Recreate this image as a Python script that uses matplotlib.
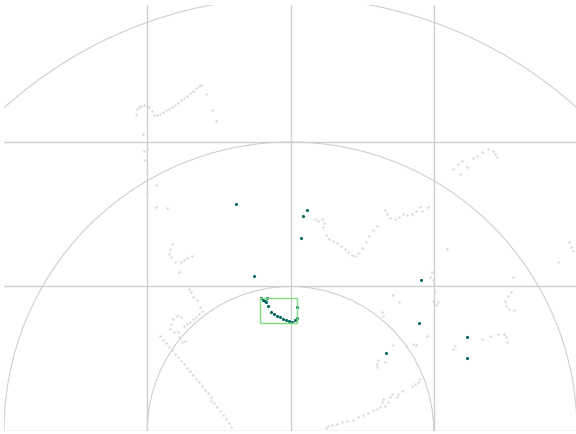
import numpy as np
import matplotlib
matplotlib.use("Agg")
import matplotlib.pyplot as plt
from matplotlib.patches import Circle, Rectangle

# lidar scan points (metres)
scan_x = [-1.081, -1.074, -1.060, -1.046, -1.025, -1.004, -0.989, -0.968,
          -0.954, -0.933, -0.912, -0.891, -0.870, -0.849, -0.828, -0.807, -0.786, -0.765,
          -0.744, -0.723, -0.702, -0.681, -0.660, -0.639, -0.625, -0.589, -0.547, -0.519,
          -1.032, -1.025, -1.004, -1.018, -1.004, -1.018, -0.940, -1.004, -0.940, -0.863,
          -0.828, -0.842, -0.849, -0.835, -0.807, -0.765, -0.744, -0.723, -0.688, -0.779,
          -0.709, -0.695, -0.681, -0.653, -0.632,
          -0.618, -0.639, -0.660, -0.681, -0.702, -0.723, -0.744, -0.765, -0.793, -0.821,
          -0.835, -0.842, -0.814, -0.786, -0.779, -0.758, -0.737,
          -0.912, -0.891, -0.870, -0.849, -0.828, -0.807, -0.786, -0.765, -0.744, -0.723,
          -0.702, -0.681, -0.660, -0.639, -0.618, -0.596, -0.575, -0.554, -0.554, -0.533,
          -0.512, -0.491, -0.470, -0.449, -0.428, -0.414,
          0.168, 0.189, 0.218, 0.232, 0.225, 0.246, 0.267, 0.295, 0.323, 0.351, 0.379,
          0.400, 0.428, 0.449, 0.470, 0.498, 0.526, 0.547, 0.575, 0.604, 0.660, 0.674,
          0.695, 0.730, 0.758, 0.786, 0.814, 0.849, 0.877, 0.905, 0.919, 0.961,
          1.137, 1.172, 1.200, 1.186, 1.235, 1.277, 1.305, 1.340, 1.382, 1.411, 1.425, 1.439,
          1.095, 1.944, 1.958, 1.972, 1.867, 1.551, 1.537, 1.516, 1.495, 1.502, 1.523, 1.558,
          0.989, 0.975, 0.996, 1.004, 1.011, 0.996, 1.032, 1.018, 0.716, 0.758, 0.639, 0.646,
          0.954, 0.856, 0.807, 0.716, 0.877,
          1.151, 1.137, 1.340, 1.396, 1.446, 1.488, 1.502, 1.509,
          0.611, 0.604, 0.604, 0.660, 0.905, 0.891, 0.870, 0.849, 0.779, 0.751, 0.744, 0.709,
          0.695, 0.646, 0.639, 0.681, 0.660, 0.625, 0.604, 0.575, 0.540, 0.505, 0.470, 0.435,
          0.393, 0.358, 0.323, 0.288, 0.260, 0.246]
scan_y = [2.194, 2.229, 2.243, 2.249, 2.256, 2.249, 2.243, 2.215,
          2.187, 2.187, 2.194, 2.208, 2.222, 2.229, 2.243, 2.256, 2.270, 2.291,
          2.305, 2.318, 2.339, 2.353, 2.374, 2.388, 2.394, 2.332, 2.222, 2.145,
          2.055, 1.938, 1.952, 1.876, 1.800, 1.730, 1.702, 1.654, 1.550, 1.543,
          1.294, 1.259, 1.225, 1.204, 1.170, 1.170, 1.183, 1.197, 1.211, 1.101,
          0.982, 0.962, 0.927, 0.906, 0.858,
          0.830, 0.810, 0.789, 0.775, 0.754, 0.741, 0.727, 0.789, 0.796, 0.775,
          0.741, 0.706, 0.685, 0.685, 0.651, 0.616, 0.623,
          0.658, 0.630, 0.609, 0.581, 0.560, 0.533, 0.512, 0.484, 0.463, 0.436,
          0.415, 0.388, 0.360, 0.339, 0.312, 0.284, 0.263, 0.236, 0.208, 0.193,
          0.166, 0.138, 0.110, 0.083, 0.055, 0.028,
          1.467, 1.454, 1.467, 1.440, 1.412, 1.356, 1.328, 1.315, 1.301, 1.280, 1.259,
          1.239, 1.218, 1.211, 1.232, 1.266, 1.308, 1.349, 1.391, 1.419, 1.530, 1.502,
          1.474, 1.467, 1.481, 1.502, 1.495, 1.502, 1.523, 1.550, 1.523, 1.550,
          1.814, 1.848, 1.869, 1.779, 1.827, 1.889, 1.903, 1.931, 1.952, 1.938, 1.917, 1.896,
          1.259, 1.308, 1.273, 1.246, 1.170, 1.066, 0.962, 0.934, 0.899, 0.865, 0.844, 0.837,
          1.101, 1.066, 1.045, 1.018, 0.962, 0.899, 0.892, 0.872, 0.941, 0.892, 0.823, 0.796,
          0.658, 0.603, 0.588, 0.596, 0.596,
          0.588, 0.567, 0.637, 0.658, 0.672, 0.672, 0.651, 0.616,
          0.491, 0.463, 0.443, 0.477, 0.360, 0.339, 0.325, 0.312, 0.277, 0.256, 0.236, 0.256,
          0.236, 0.222, 0.201, 0.201, 0.173, 0.166, 0.152, 0.145, 0.124, 0.110, 0.097, 0.076,
          0.069, 0.062, 0.048, 0.041, 0.035, 0.021]

# detected points
det_x = [-0.379, 0.084, 0.112, 0.070, -0.253, 0.912, 0.898, 0.667, 1.235, 1.235,
         -0.204, -0.189, -0.175, -0.161, -0.168, -0.154, -0.133, -0.112, -0.091, -0.070,
         -0.049, -0.028, -0.007, 0.007, 0.028, 0.042, 0.042]
det_y = [1.571, 1.488, 1.530, 1.335, 1.073, 1.045, 0.748, 0.539, 0.651, 0.505,
         0.920, 0.906, 0.899, 0.920, 0.892, 0.865, 0.823, 0.810, 0.796, 0.789,
         0.775, 0.768, 0.761, 0.754, 0.768, 0.782, 0.858]

# bounding box of the tracked object (x0, y0, x1, y1)
box = [-0.211, 0.745, 0.047, 0.920]
ring_radii = [1, 2, 3]

fig = plt.figure(figsize=(5.76, 4.35), dpi=100)
ax = fig.add_axes([4 / 576, 3 / 435, 573 / 576, 426 / 435])

ax.set_xlim(-2, 2)
ax.set_ylim(0, 2.948)
ax.set_xticks([-1, 0, 1])
ax.set_yticks([0, 1, 2])
ax.grid(True, color="#d0d0d0", linewidth=1.0)
ax.set_axisbelow(True)
ax.tick_params(length=0, labelbottom=False, labelleft=False)
for s in ax.spines.values():
    s.set_visible(False)

for r in ring_radii:
    ax.add_patch(Circle((0, 0), r, fill=False, edgecolor="#cfcfcf", linewidth=0.8))

ax.scatter(scan_x, scan_y, s=3, color="#d9d9d9", linewidths=0)
ax.scatter(det_x, det_y, s=5, color="#00695f", linewidths=0, zorder=3)

ax.add_patch(Rectangle((box[0], box[1]), box[2] - box[0], box[3] - box[1],
                       fill=False, edgecolor="#7fdc7f", linewidth=1.0, zorder=4))

fig.savefig("out.png", dpi=100)
